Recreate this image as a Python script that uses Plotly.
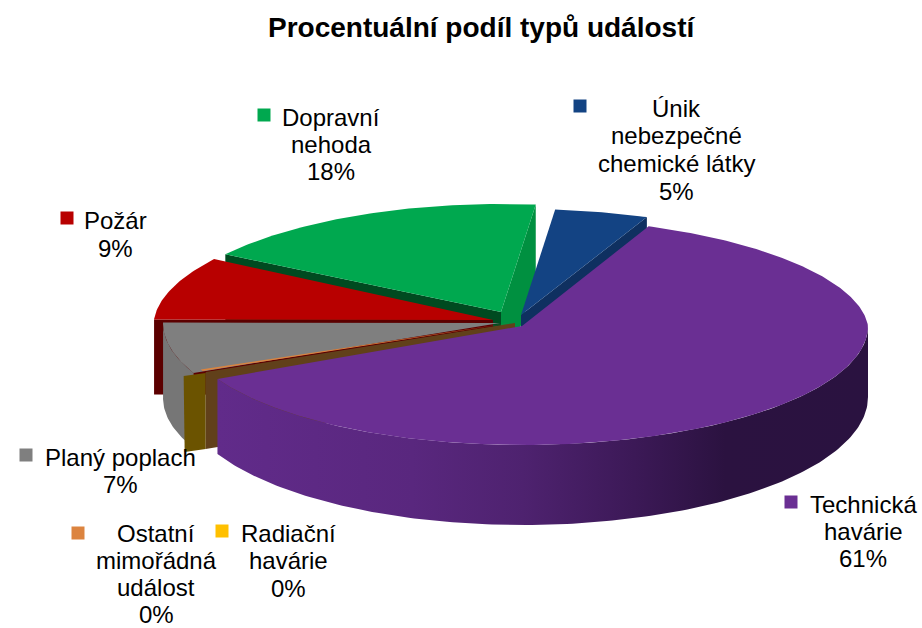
import math
import plotly.graph_objects as go

title = "Procentuální podíl typů událostí"
categories = ["Únik nebezpečné chemické látky", "Technická havárie", "Radiační havárie",
              "Ostatní mimořádná událost", "Planý poplach", "Požár", "Dopravní nehoda"]
category_lines = [["Únik", "nebezpečné", "chemické látky"], ["Technická", "havárie"], ["Radiační", "havárie"],
                  ["Ostatní", "mimořádná", "událost"], ["Planý poplach"], ["Požár"], ["Dopravní", "nehoda"]]
values = [4.6, 61.4, 0.3, 0.2, 6.9, 8.9, 17.7]
key_colors = ["#134383", "#6a2f93", "#ffc000", "#dc843f", "#7f7f7f", "#b80000", "#00a84f"]
start_angle = 6.0
depth = 75
k = 0.05

# layout of each exploded slice: apex, radii
geo = [
    dict(cx=521, cy=315, rr=344, rl=344, rb=106, rf=120),
    dict(cx=522, cy=326, rr=346, rl=340, rb=108, rf=119),
    dict(cx=518, cy=327, rr=344, rl=340, rb=108, rf=112),
    dict(cx=510, cy=323, rr=344, rl=340, rb=108, rf=112),
    dict(cx=500, cy=323, rr=337, rl=337, rb=108, rf=120),
    dict(cx=493, cy=320, rr=339, rl=339, rb=114, rf=120),
    dict(cx=501, cy=312, rr=350, rl=335, rb=108, rf=120),
]
label_pos = [
    dict(key=(580, 106), x=676, y=108, lh=27.7), dict(key=(791, 502), x=863, y=504, lh=27.3),
    dict(key=(222, 531), x=288, y=533, lh=27.7), dict(key=(78, 533), x=156, y=533, lh=27.3),
    dict(key=(26, 455), x=120, y=457, lh=27.5), dict(key=(67, 218), x=115, y=220, lh=28),
    dict(key=(264, 115), x=331, y=117, lh=27.3),
]

# angles from data
total = sum(values)
angles = []
a = start_angle
for v in values:
    b = a + v / total * 360
    angles.append((a, b))
    a = b


def rim(g, deg):
    t = math.radians(deg)
    s, c = math.sin(t), math.cos(t)
    r = g["rr"] if s > 0 else g["rl"]
    persp = 1 - k * max(c, 0)
    x = g["cx"] + r * s * persp
    y = g["cy"] - (g["rb"] if c > 0 else g["rf"]) * c
    return x, y


def arc(g, a0, a1, n=None):
    n = n or max(2, int(abs(a1 - a0) * 1.5))
    return [rim(g, a0 + (a1 - a0) * i / n) for i in range(n + 1)]


fig = go.Figure()


def poly(pts, color=None, name="", grad=None):
    xs = [p[0] for p in pts] + [pts[0][0]]
    ys = [p[1] for p in pts] + [pts[0][1]]
    kw = dict(fillcolor=color) if color else dict(fillgradient=grad)
    fig.add_trace(go.Scatter(x=xs, y=ys, mode="lines", fill="toself", line=dict(width=0),
                             hoverinfo="skip" if not name else "name", name=name, showlegend=False, **kw))


def top(i, color):
    g = geo[i]
    a0, a1 = angles[i]
    poly([(g["cx"], g["cy"])] + arc(g, a0, a1), color, categories[i])


def down(pts):
    return [(x, y + depth) for x, y in pts]


def cut_face(i, deg, color):
    g = geo[i]
    p = [(g["cx"], g["cy"]), rim(g, deg)]
    poly(p + down(p)[::-1], color)


# Dopravní nehoda (6)
cut_face(6, angles[6][1], "#009040")
cut_face(6, angles[6][0], "#004a20")
top(6, "#00a84f")
# Únik (0)
cut_face(0, angles[0][1], "#0f3060")
top(0, "#134383")
# Požár (5)
cut_face(5, angles[5][0], "#5c0000")
top(5, "#b80000")
# Planý poplach (4)
gr = arc(geo[4], angles[4][1], angles[4][0])
poly(gr + down(gr)[::-1], "#767676")
top(4, "#7f7f7f")
p_dark = [(geo[4]["cx"], geo[4]["cy"]), rim(geo[4], angles[4][0]), rim(geo[4], angles[4][0] - 0.3)]
poly(p_dark, "#444444")
# Radiační + Ostatní
g3 = geo[3]
p2 = rim(g3, angles[3][0])
ex = p2[0] + 3
gold = [(ex - 22, p2[1] + 5), (ex, p2[1] + 2), (ex, p2[1] + 78), (ex - 21, p2[1] + 81)]
poly(gold, "#6b5300")
top(2, "#ffc000")
brown = [(g3["cx"] + 5, g3["cy"]), (ex, p2[1] + 1), (ex, p2[1] + 78), (ex + 12, p2[1] + 76),
         (g3["cx"] + 5, g3["cy"] + 60)]
poly(brown, "#61401a")
top(3, "#dc843f")
# Technická havárie (1)
g1 = geo[1]
n_wall = 160
wall_deg = [angles[1][1] + (90 - angles[1][1]) * i / n_wall for i in range(n_wall + 1)]
pg = [rim(g1, d) for d in wall_deg]
pg_low = [(x, y + 71 + 9 * max(-math.cos(math.radians(d)), 0)) for (x, y), d in zip(pg, wall_deg)]
poly(pg + pg_low[::-1], grad=dict(type="horizontal",
     colorscale=[[0, "#612b8a"], [0.3, "#59277e"], [0.47, "#4e226f"], [0.64, "#3c1957"],
                 [0.78, "#2b1240"], [1, "#2a1240"]]))
top(1, "#6a2f93")

# keys
for i, pos in enumerate(label_pos):
    fig.add_trace(go.Scatter(x=[pos["key"][0]], y=[pos["key"][1]], mode="markers", name=categories[i],
                             marker=dict(symbol="square", size=13, color=key_colors[i]),
                             showlegend=False, hoverinfo="name"))

# labels
font = dict(family="Liberation Sans, Arial, sans-serif", size=24, color="#000000")
annotations = []
for i, pos in enumerate(label_pos):
    lines = category_lines[i] + [f"{round(values[i])}%"]
    for j, line in enumerate(lines):
        annotations.append(dict(x=pos["x"], y=pos["y"] + j * pos["lh"], text=line, showarrow=False,
                                xref="x", yref="y", xanchor="center", yanchor="middle", font=font))
annotations.append(dict(x=481, y=27, text=f"<b>{title}</b>", showarrow=False, xref="x", yref="y",
                        xanchor="center", yanchor="middle",
                        font=dict(family="Liberation Sans, Arial, sans-serif", size=28, color="#000000")))

fig.update_layout(width=922, height=628, margin=dict(l=0, r=0, t=0, b=0), autosize=False,
                  paper_bgcolor="white", plot_bgcolor="white", annotations=annotations, showlegend=False,
                  xaxis=dict(range=[0, 922], visible=False, fixedrange=True),
                  yaxis=dict(range=[628, 0], visible=False, fixedrange=True))
fig.write_html("out.html", config=dict(displayModeBar=False),
               post_script="document.body.style.margin='0';document.body.style.overflow='hidden';")
